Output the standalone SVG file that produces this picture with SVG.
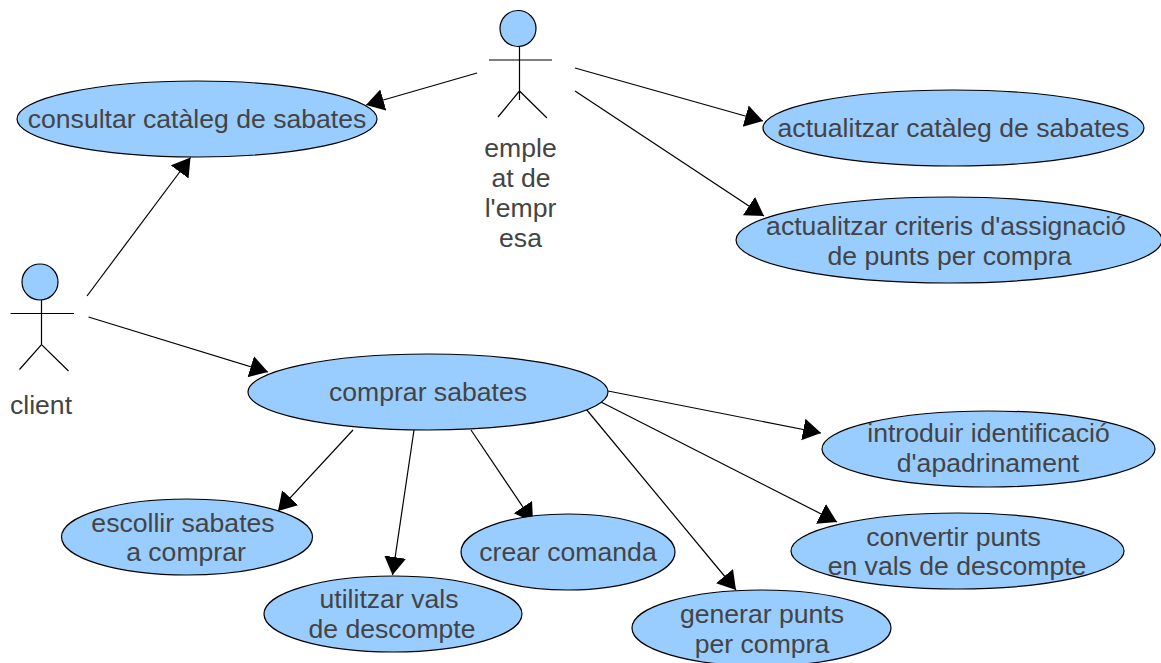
<svg xmlns="http://www.w3.org/2000/svg" width="1161" height="663" viewBox="0 0 1161 663">
<style>
.n{fill:#99ccff;stroke:#000;stroke-width:1.2}
.l{stroke:#000;stroke-width:1.2;fill:none}
.c{stroke:#000;stroke-width:1.2;fill:none;marker-end:url(#a)}
text{font-family:"Liberation Sans",Arial,sans-serif;font-size:26.6px;fill:#444;text-anchor:middle}
</style>
<defs><marker id="a" markerUnits="userSpaceOnUse" markerWidth="20" markerHeight="24" refX="18" refY="11" orient="auto"><path d="M0 0L18 11L0 22Z" fill="#000"/></marker></defs>
<rect width="1161" height="663" fill="#fff"/>
<g id="connectors">
<path class="c" d="M477 73L366 105"/>
<path class="c" d="M87 296L190.500 157.500"/>
<path class="c" d="M575 68L763 121"/>
<path class="c" d="M575 91L764 216"/>
<path class="c" d="M88.500 317L268 372"/>
<path class="c" d="M353 430L278 511"/>
<path class="c" d="M414 430L392.500 575"/>
<path class="c" d="M471 430L533 522"/>
<path class="c" d="M586 409L736 590"/>
<path class="c" d="M599 401L837 522"/>
<path class="c" d="M608 391L821 433"/>
</g>
<g id="actor-empleat"><circle class="n" cx="518" cy="28.500" r="18"/><path class="l" d="M519.500 46V100M489 60H552M498 117L519.500 91L547 118"/><text x="520.500" y="157">emple</text><text x="521" y="187">at de</text><text x="520.500" y="217">l'empr</text><text x="520.500" y="247">esa</text></g>
<g id="actor-client"><circle class="n" cx="40" cy="282" r="18"/><path class="l" d="M41.500 300V344.500M10.500 313.500H74M19.500 369.500L41.500 344.500L68.500 371"/><text x="41" y="414">client</text></g>
<g id="uc-consultar"><ellipse class="n" cx="197" cy="119" rx="180" ry="38"/><text x="197" y="128">consultar catàleg de sabates</text></g>
<g id="uc-actualitzar"><ellipse class="n" cx="953.500" cy="128" rx="190.500" ry="38"/><text x="953.500" y="137">actualitzar catàleg de sabates</text></g>
<g id="uc-criteris"><ellipse class="n" cx="949" cy="240" rx="213" ry="43"/><text x="946" y="235">actualitzar criteris d'assignació</text><text x="949.500" y="265">de punts per compra</text></g>
<g id="uc-comprar"><ellipse class="n" cx="428" cy="392" rx="180" ry="38"/><text x="428" y="401">comprar sabates</text></g>
<g id="uc-introduir"><ellipse class="n" cx="988.500" cy="449" rx="166.500" ry="38"/><text x="988.500" y="442">introduir identificació</text><text x="988" y="472">d'apadrinament</text></g>
<g id="uc-escollir"><ellipse class="n" cx="187" cy="537" rx="125.500" ry="38"/><text x="183" y="532">escollir sabates</text><text x="186" y="561">a comprar</text></g>
<g id="uc-utilitzar"><ellipse class="n" cx="393" cy="614" rx="129" ry="38"/><text x="389" y="608">utilitzar vals</text><text x="392" y="638">de descompte</text></g>
<g id="uc-crear"><ellipse class="n" cx="568" cy="552" rx="107" ry="38"/><text x="568" y="561">crear comanda</text></g>
<g id="uc-generar"><ellipse class="n" cx="761.500" cy="628" rx="129.500" ry="38"/><text x="762" y="623">generar punts</text><text x="762" y="653">per compra</text></g>
<g id="uc-convertir"><ellipse class="n" cx="957.500" cy="551" rx="166.500" ry="38"/><text x="953.500" y="546">convertir punts</text><text x="957" y="575">en vals de descompte</text></g>
</svg>
